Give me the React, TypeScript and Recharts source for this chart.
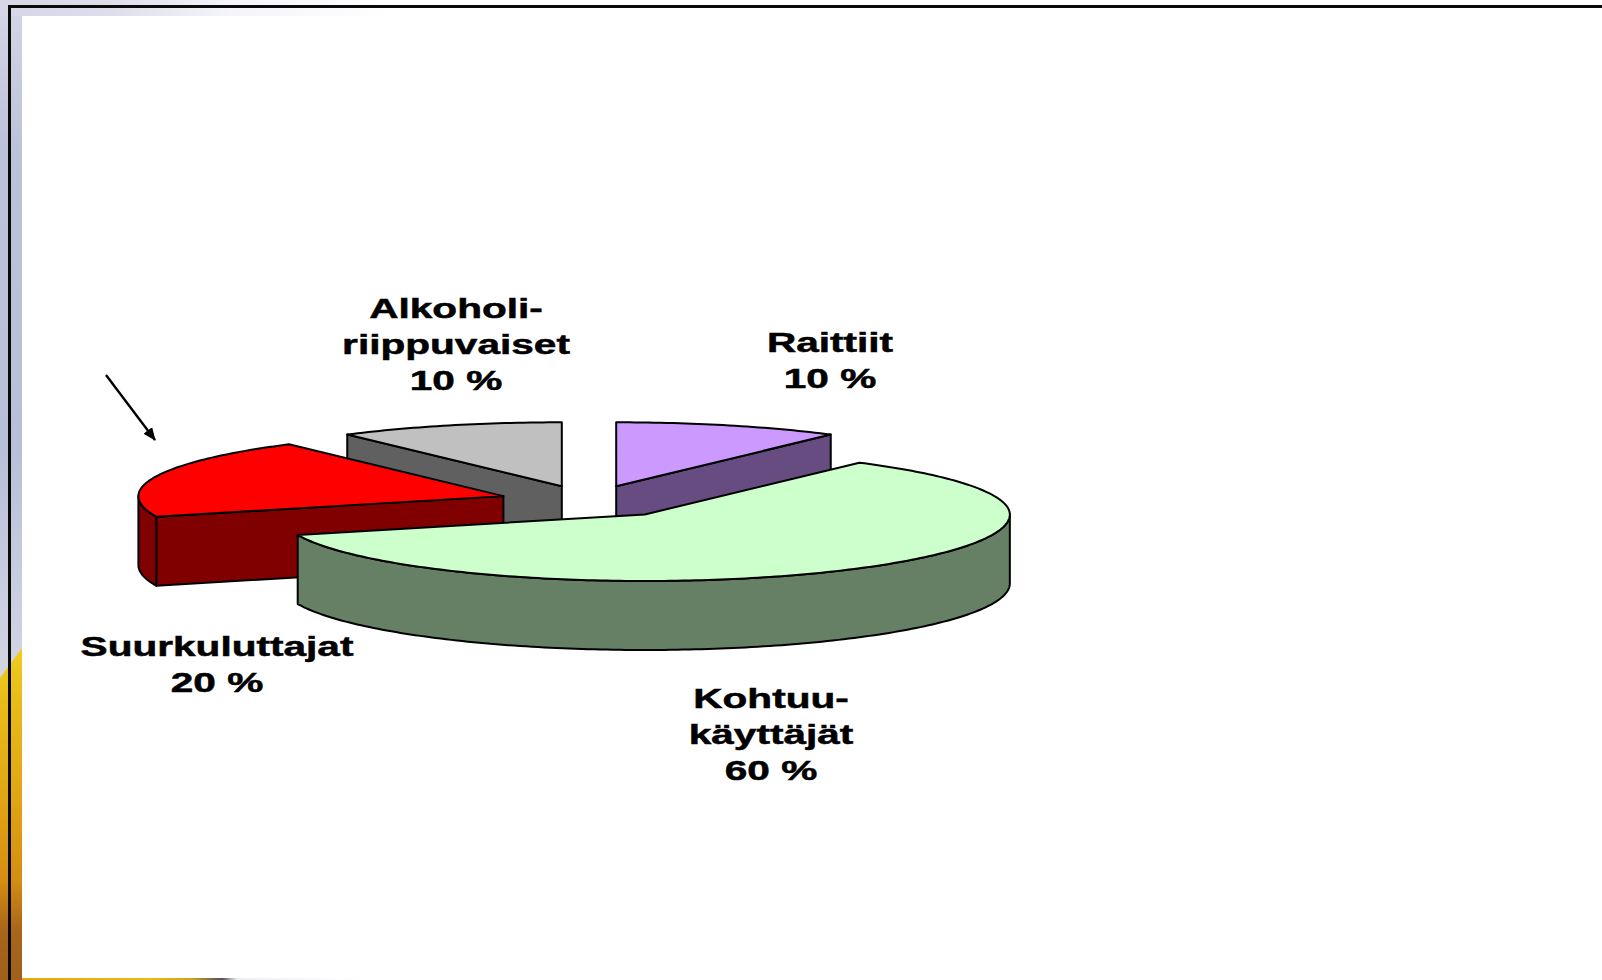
import React from 'react';
import { PieChart, Pie } from 'recharts';

// Listed counter-clockwise so the slices paint back to front
const categories = ['Raittiit', 'Alkoholiriippuvaiset', 'Suurkuluttajat', 'Kohtuukäyttäjät'];
const shares = [10, 10, 20, 60];
const labelLines = [
  ['Raittiit', '10 %'],
  ['Alkoholi-', 'riippuvaiset', '10 %'],
  ['Suurkuluttajat', '20 %'],
  ['Kohtuu-', 'käyttäjät', '60 %'],
];
const topColors = ['#CC99FF', '#C0C0C0', '#FF0000', '#CCFFCC'];
const sideColors = ['#664C80', '#606060', '#800000', '#668066'];
const explodes = [88, 88, 90, 95];

const labelCenters = [830, 456, 217, 771];
const labelFirstBaselines = [352, 318, 656, 708];

const chartData = categories.map((name, i) => ({
  name,
  value: shares[i],
  top: topColors[i],
  side: sideColors[i],
  explode: explodes[i],
}));

const SQUASH = 64 / 365;
const FRONT_SQUASH = 66.5 / 365; // the near half of the ellipse is a little deeper
const DEPTH = 69;
const RAD = Math.PI / 180;

const Slice3D = (props: any) => {
  const { cx, cy, outerRadius: r, startAngle, endAngle, payload } = props;
  const top = payload.top ?? props.top;
  const side = payload.side ?? props.side;
  const explode = payload.explode ?? props.explode;
  const a = Math.min(startAngle, endAngle);
  const b = Math.max(startAngle, endAngle);
  const mid = (a + b) / 2;
  const ox = cx + explode * Math.cos(mid * RAD);
  const oy = cy - explode * SQUASH * Math.sin(mid * RAD);
  const px = (t: number) => ox + r * Math.cos(t * RAD);
  const py = (t: number) => {
    const s = Math.sin(t * RAD);
    return oy - r * (s < 0 ? FRONT_SQUASH : SQUASH) * s;
  };
  const stroke = { stroke: '#000', strokeWidth: 2, strokeLinejoin: 'round' as const };

  const arc = (from: number, to: number, drop = 0) => {
    const pts: string[] = [];
    const n = Math.max(2, Math.ceil(Math.abs(to - from)));
    for (let i = 0; i <= n; i++) {
      const t = from + ((to - from) * i) / n;
      pts.push(`${px(t)},${py(t) + drop}`);
    }
    return pts.join(' L');
  };

  const wall = (t: number) =>
    `M${ox},${oy} L${px(t)},${py(t)} L${px(t)},${py(t) + DEPTH} L${ox},${oy + DEPTH} Z`;

  // front rim: part of the slice between 180 and 360 degrees
  const rimFrom = Math.max(a, 180);
  const rimTo = Math.min(b, 360);
  const rim = rimTo > rimFrom ? `M${arc(rimFrom, rimTo)} L${arc(rimTo, rimFrom, DEPTH)} Z` : null;
  const topPath = `M${ox},${oy} L${arc(a, b)} Z`;

  return (
    <g>
      {Math.cos(a * RAD) > 1e-6 && <path d={wall(a)} fill={side} {...stroke} />}
      {Math.cos(b * RAD) < -1e-6 && <path d={wall(b)} fill={side} {...stroke} />}
      {rim && <path d={rim} fill={side} {...stroke} />}
      <path d={topPath} fill={top} {...stroke} />
    </g>
  );
};

const renderLabel = (props: any) => {
  const i = categories.indexOf(props.name ?? props.payload?.name);
  const x = labelCenters[i];
  const y = labelFirstBaselines[i];
  return (
    <g key={categories[i]}>
      {labelLines[i].map((line, n) => (
        <text
          key={line}
          transform={`translate(${x},${y + n * 36}) scale(1.45,1)`}
          textAnchor="middle"
          fontFamily="'Liberation Sans', Arial, sans-serif"
          fontWeight="bold"
          fontSize={28}
          fill="#000"
          stroke="#000"
          strokeWidth={0.5}
        >
          {line}
        </text>
      ))}
    </g>
  );
};

export default function App() {
  return (
    <div style={{ position: 'absolute', left: 0, top: 0, width: 1602, height: 980, overflow: 'hidden', background: '#fff' }}>
      {/* slide background showing round the white panel */}
      <div
        style={{
          position: 'absolute', left: 0, top: 0, width: 22, height: 980,
          background: 'linear-gradient(to bottom, #d6d6e6 0px, #bcc2d8 150px, #b8bfd8 450px, #cfd2e2 640px, #d4d4e0 680px)',
        }}
      />
      <div
        style={{
          position: 'absolute', left: 0, top: 640, width: 22, height: 340,
          clipPath: 'polygon(0 38px, 100% 8px, 100% 100%, 0 100%)',
          background: 'linear-gradient(to bottom, #f0d020 0px, #e8bc18 60px, #e0a414 160px, #d48e12 240px, #a8661a 290px, #a0601a 340px)',
        }}
      />
      <div
        style={{
          position: 'absolute', left: 0, top: 0, width: 400, height: 16,
          background: 'linear-gradient(to right, #d6d6e6 0px, #dcdcea 100px, #f4f4fa 230px, #ffffff 390px)',
        }}
      />
      <div
        style={{
          position: 'absolute', left: 22, top: 978, width: 340, height: 2,
          background: 'linear-gradient(to right, #e6a514 0px, #eabb14 130px, #d0a020 170px, #55505a 200px, #eeeef5 215px, #ffffff 340px)',
        }}
      />
      <div style={{ position: 'absolute', left: 8, top: 5, width: 1594, height: 3, background: '#0a0a0a' }} />
      <div style={{ position: 'absolute', left: 8, top: 5, width: 3, height: 975, background: '#0a0a0a' }} />

      <div style={{ position: 'absolute', left: 0, top: 0 }}>
        <PieChart width={1602} height={980} margin={{ top: 0, right: 0, bottom: 0, left: 0 }}>
          <Pie
            data={chartData}
            dataKey="value"
            nameKey="name"
            cx={589}
            cy={501}
            outerRadius={365}
            startAngle={54}
            endAngle={414}
            stroke="none"
            shape={Slice3D}
            label={renderLabel}
            labelLine={false}
            isAnimationActive={false}
          />
          <defs>
            <marker id="arrowHead" markerWidth="13" markerHeight="11" refX="12" refY="5.5" orient="auto" markerUnits="userSpaceOnUse">
              <path d="M0,0 L13,5.5 L0,11 Z" fill="#000" />
            </marker>
          </defs>
          <line x1={106} y1={375} x2={155} y2={440} stroke="#000" strokeWidth={2.4} markerEnd="url(#arrowHead)" />
        </PieChart>
      </div>
    </div>
  );
}
